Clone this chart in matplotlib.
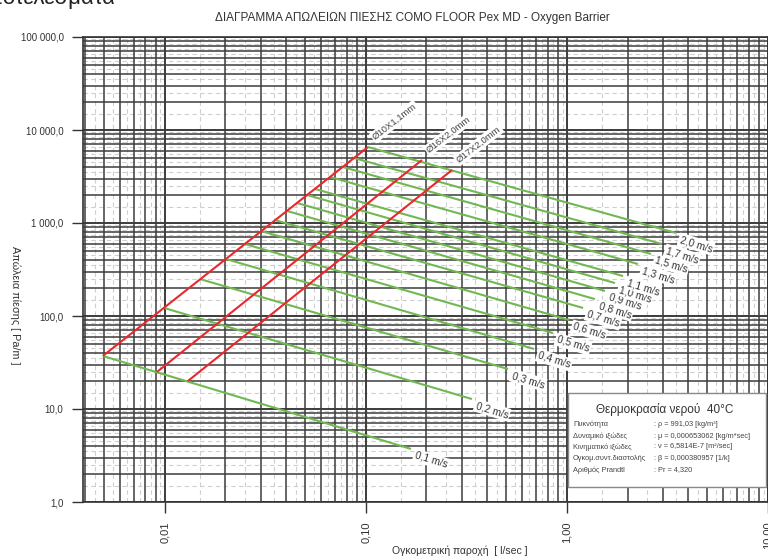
import matplotlib
matplotlib.use("Agg")
import matplotlib.pyplot as plt
import numpy as np
from matplotlib.ticker import LogLocator, FuncFormatter, NullFormatter
from matplotlib.patches import FancyBboxPatch

plt.rcParams['font.family'] = ['Liberation Sans', 'DejaVu Sans']

# ---- data ----
title = "ΔΙΑΓΡΑΜΜΑ ΑΠΩΛΕΙΩΝ ΠΙΕΣΗΣ COMO FLOOR Pex MD - Oxygen Barrier"
xlabel = "Ογκομετρική παροχή  [ l/sec ]"
ylabel = "Απώλεια πίεσης [ Pa/m ]"

vel_labels = ['0,1 m/s', '0,2 m/s', '0,3 m/s', '0,4 m/s', '0,5 m/s', '0,6 m/s', '0,7 m/s',
              '0,8 m/s', '0,9 m/s', '1,0 m/s', '1,1 m/s', '1,3 m/s', '1,5 m/s', '1,7 m/s', '2,0 m/s']
q_start = [0.0049, 0.0099, 0.0149, 0.0201, 0.0250, 0.0300, 0.0352, 0.0405, 0.0454,
           0.0509, 0.0558, 0.0662, 0.0768, 0.0871, 0.1023]
dp_start = [37.2, 122, 250, 410, 594, 820, 1077, 1346, 1641, 2000, 2321, 3124, 4000, 5000, 6560]
q_end = [0.1675, 0.3365, 0.5087, 0.6855, 0.851, 1.023, 1.202, 1.377, 1.545,
         1.733, 1.900, 2.255, 2.618, 2.970, 3.485]
dp_end = [3.72, 12.8, 26.9, 44.2, 65.7, 90.6, 122, 152, 186, 226, 269, 362, 464, 594, 780]

pipe_labels = ['Ø10X1,1mm', 'Ø16X2,0mm', 'Ø17X2,0mm']
pipe_q = [[0.00491, 0.1023], [0.00912, 0.190], [0.0130, 0.268]]
pipe_dp = [[37.2, 6560], [25.0, 4757], [20.0, 3715]]

box_title = "Θερμοκρασία νερού  40°C"
prop_names = ["Πυκνότητα", "Δυναμικό ιξώδες", "Κινηματικό ιξώδες",
              "Ογκομ.συντ.διαστολής", "Αριθμός Prandtl"]
prop_values = [": ρ = 991,03 [kg/m³]", ": μ = 0,000653062 [kg/m*sec]",
               ": ν = 6,5814E-7 [m²/sec]", ": β = 0,000380957 [1/k]", ": Pr = 4,320"]

# ---- figure ----
W, H = 768, 560
fig = plt.figure(figsize=(W / 100, H / 100), dpi=100)
ax = fig.add_axes([83 / W, 1 - 502 / H, (W - 83) / W, (502 - 37) / H])
ax.set_xscale('log')
ax.set_yscale('log')
ax.set_xlim(0.00391, 10.0)
ax.set_ylim(1, 1e5)

grid_c = '#3c3c3c'
# half-step dashed grid lines
xl = ax.get_xlim(); yl = ax.get_ylim()
for d in range(-3, 2):
    for k in np.arange(1.5, 10, 1.0):
        v = k * 10.0 ** d
        if xl[0] < v < xl[1]:
            ax.axvline(v, color='#cfcfcf', lw=0.8, ls=(0, (4, 3)), zorder=0.5)
for d in range(0, 5):
    for k in np.arange(1.5, 10, 1.0):
        v = k * 10.0 ** d
        if yl[0] < v < yl[1]:
            ax.axhline(v, color='#cfcfcf', lw=0.8, ls=(0, (4, 3)), zorder=0.5)

ax.xaxis.set_major_locator(LogLocator(base=10, numticks=20))
ax.yaxis.set_major_locator(LogLocator(base=10, numticks=20))
ax.xaxis.set_minor_locator(LogLocator(base=10, subs=np.arange(2, 10), numticks=50))
ax.yaxis.set_minor_locator(LogLocator(base=10, subs=np.arange(2, 10), numticks=50))
ax.xaxis.set_minor_formatter(NullFormatter())
ax.yaxis.set_minor_formatter(NullFormatter())
ax.grid(which='major', color=grid_c, lw=1.4, zorder=1)
ax.grid(which='minor', color=grid_c, lw=1.1, zorder=1)
ax.set_axisbelow(True)


def yfmt(v, pos):
    s = f"{v:,.1f}"
    return s.replace(',', ' ').replace('.', ',')


def xfmt(v, pos):
    return f"{v:.2f}".replace('.', ',')


ax.yaxis.set_major_formatter(FuncFormatter(yfmt))
ax.xaxis.set_major_formatter(FuncFormatter(xfmt))
ax.tick_params(which='major', length=8, width=1.0, color='#333333', labelsize=7,
               labelcolor='#333333', direction='out')
ax.tick_params(axis='y', pad=6)
ax.tick_params(which='minor', length=0)
ax.tick_params(axis='x', labelrotation=90, pad=6, labelsize=8)
for s in ax.spines.values():
    s.set_color('#333333')
    s.set_linewidth(1.2)

green = '#72b852'
red = '#e8282c'

# velocity lines
for i in range(len(vel_labels)):
    ax.plot([q_start[i], q_end[i]], [dp_start[i], dp_end[i]], color=green, lw=1.5, zorder=3,
            solid_capstyle='butt')
    ax.annotate(vel_labels[i], xy=(q_end[i], dp_end[i]), xytext=(4, -1), textcoords='offset points',
                rotation=-17, rotation_mode='anchor', ha='left', va='top', fontsize=7.3,
                color='#333333', zorder=5,
                bbox=dict(boxstyle='square,pad=0.15', fc='white', ec='none'))

# pipe lines
for i in range(len(pipe_labels)):
    ax.plot(pipe_q[i], pipe_dp[i], color=red, lw=1.5, zorder=4, solid_capstyle='butt')
    ax.annotate(pipe_labels[i], xy=(pipe_q[i][1], pipe_dp[i][1]), xytext=(6, 4),
                textcoords='offset points', rotation=38, rotation_mode='anchor',
                ha='left', va='bottom', fontsize=6.8, color='#444444', zorder=5,
                bbox=dict(boxstyle='square,pad=0.15', fc='white', ec='none'))

# titles and labels
fig.text(412 / W, 1 - 18 / H, title, ha='center', va='center', fontsize=8.5, color='#333333')
fig.text(460 / W, 1 - 551 / H, xlabel, ha='center', va='center', fontsize=7.5, color='#333333')
fig.text(15 / W, 1 - 305 / H, ylabel, ha='center', va='center', rotation=-90,
         fontsize=7.8, color='#333333')
fig.text(116 / W, 1 - 4 / H, "Αποτελέσματα", ha='right', va='baseline', fontsize=16,
         color='#222222')

# properties box
bx0, by0, bx1, by1 = 568, 393, 766, 487
box = FancyBboxPatch((bx0 / W, 1 - by1 / H), (bx1 - bx0) / W, (by1 - by0) / H,
                     boxstyle='square,pad=0', transform=fig.transFigure,
                     fc='white', ec='#8a8a8a', lw=1.0, zorder=10)
fig.patches.append(box)
fig.text(665 / W, 1 - 410 / H, box_title, ha='center', va='center', fontsize=8.5,
         color='#333333', zorder=11)
rows_y = [424, 436, 447, 459, 470]
for i in range(len(prop_names)):
    fig.text(573 / W, 1 - rows_y[i] / H, prop_names[i], ha='left', va='center', fontsize=5.3,
             color='#444444', zorder=11)
    fig.text(654 / W, 1 - rows_y[i] / H, prop_values[i], ha='left', va='center', fontsize=5.3,
             color='#444444', zorder=11)

fig.savefig('out.png', dpi=100)
